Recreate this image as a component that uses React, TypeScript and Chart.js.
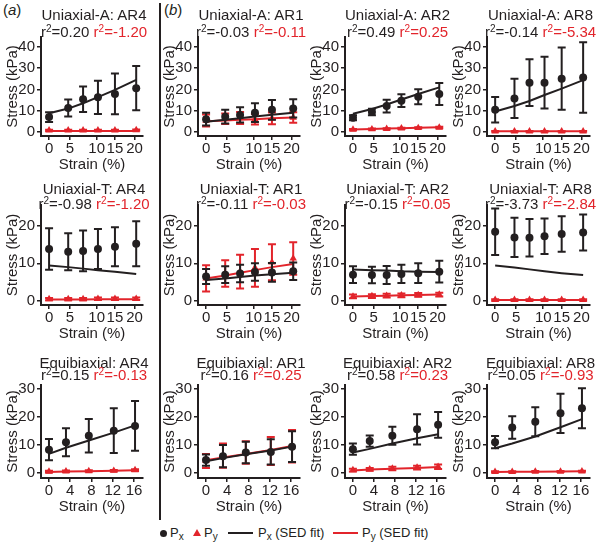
import React, { useEffect, useRef } from 'react';
import { Chart, registerables } from 'chart.js';

Chart.register(...registerables);

const FONT = "'Liberation Sans', Arial, Helvetica, sans-serif";
const BLACK = '#231f20';
const RED = '#e2242b';

// ---------------- data ----------------
const conditions = ['Uniaxial-A', 'Uniaxial-T', 'Equibiaxial'];
const aspectRatios = ['AR4', 'AR1', 'AR2', 'AR8'];

const strainUniaxial = [0, 4.5, 8, 11.5, 15.5, 20.5];
const strainEquibiaxial = [0, 3.2, 7.5, 12.2, 16.2];

const xTicksUniaxial = [0, 5, 10, 15, 20];
const xTicksEquibiaxial = [0, 4, 8, 12, 16];
const yTicksUniaxialA = [0, 10, 20, 30, 40];
const yTicksUniaxialT = [0, 5, 10, 15, 20, 25];
const yTicksEquibiaxial = [0, 10, 20, 30];

// r² per condition (rows) and aspect ratio (AR4, AR1, AR2, AR8)
const r2Px = [
  [0.20, -0.03, 0.49, -0.14],
  [-0.98, -0.11, -0.15, -3.73],
  [0.15, 0.16, 0.58, 0.05],
];
const r2Py = [
  [-1.20, -0.11, 0.25, -5.34],
  [-1.20, -0.03, 0.05, -2.84],
  [-0.13, 0.25, 0.23, -0.93],
];

// Uniaxial-A  (AR4, AR1, AR2, AR8)
const uniAPx = [
  [7.0, 11.3, 15.4, 16.3, 17.9, 20.6],
  [6.0, 7.2, 8.0, 9.1, 10.4, 11.1],
  [6.7, 9.4, 12.2, 14.7, 16.6, 17.9],
  [10.4, 15.8, 23.2, 23.2, 25.1, 25.6],
];
const uniAPxErr = [
  [2.3, 4.0, 6.0, 7.8, 9.6, 10.4],
  [3.0, 3.2, 3.6, 4.4, 4.6, 4.3],
  [1.2, 1.5, 3.0, 3.0, 3.5, 5.2],
  [6.0, 9.2, 11.0, 12.2, 14.6, 16.6],
];
const uniAPy = [
  [0.8, 0.8, 0.8, 0.8, 0.8, 0.9],
  [5.4, 6.2, 6.6, 6.0, 6.4, 6.8],
  [1.1, 1.3, 1.5, 1.7, 1.9, 2.1],
  [0.3, 0.3, 0.3, 0.3, 0.3, 0.3],
];
const uniAPyErr = [
  [0.3, 0.3, 0.3, 0.3, 0.3, 0.3],
  [2.8, 2.5, 2.8, 2.5, 2.8, 2.5],
  [0.3, 0.3, 0.3, 0.3, 0.3, 0.3],
  [0.2, 0.2, 0.2, 0.2, 0.2, 0.2],
];
const uniAPxFit = [
  [8.8, 11.0, 13.5, 16.4, 19.8, 24.5],
  [4.8, 5.7, 6.5, 7.3, 8.1, 9.1],
  [8.6, 10.8, 12.9, 15.3, 17.9, 21.0],
  [9.6, 12.2, 14.6, 17.4, 20.4, 24.4],
];
const uniAPyFit = [
  [0.4, 0.4, 0.4, 0.5, 0.5, 0.5],
  [5.0, 5.4, 5.7, 6.0, 6.4, 6.8],
  [1.2, 1.4, 1.6, 1.8, 2.0, 2.2],
  [0.3, 0.3, 0.3, 0.3, 0.3, 0.3],
];

// Uniaxial-T  (AR4, AR1, AR2, AR8)
const uniTPx = [
  [13.8, 13.1, 13.3, 13.8, 14.4, 15.2],
  [6.5, 7.0, 7.3, 7.7, 7.6, 7.9],
  [7.0, 6.9, 6.9, 7.2, 7.4, 7.8],
  [18.4, 16.9, 16.8, 17.2, 17.8, 18.2],
];
const uniTPxErr = [
  [5.5, 4.9, 5.4, 5.3, 5.2, 6.0],
  [2.0, 2.2, 2.3, 2.3, 2.5, 2.3],
  [2.2, 2.2, 2.4, 2.4, 2.6, 2.9],
  [6.2, 5.2, 5.0, 4.7, 4.7, 4.8],
];
const uniTPy = [
  [0.5, 0.5, 0.5, 0.6, 0.6, 0.6],
  [6.0, 7.3, 7.8, 8.8, 10.3, 11.3],
  [1.2, 1.3, 1.4, 1.5, 1.6, 1.7],
  [0.3, 0.3, 0.3, 0.3, 0.3, 0.3],
];
const uniTPyErr = [
  [0.3, 0.3, 0.3, 0.3, 0.3, 0.3],
  [3.5, 3.5, 4.5, 5.0, 4.8, 4.3],
  [0.5, 0.5, 0.5, 0.5, 0.5, 0.5],
  [0.2, 0.2, 0.2, 0.2, 0.2, 0.2],
];
const uniTPxFit = [
  [9.4, 9.0, 8.6, 8.2, 7.8, 7.2],
  [5.6, 6.0, 6.4, 6.8, 7.1, 7.5],
  [8.4, 8.2, 8.1, 7.9, 7.8, 7.7],
  [9.4, 8.9, 8.4, 7.9, 7.4, 6.9],
];
const uniTPyFit = [
  [0.4, 0.4, 0.4, 0.5, 0.5, 0.5],
  [6.0, 6.8, 7.5, 8.2, 9.0, 9.8],
  [1.2, 1.3, 1.4, 1.5, 1.6, 1.7],
  [0.3, 0.3, 0.3, 0.3, 0.3, 0.3],
];

// Equibiaxial  (AR4, AR1, AR2, AR8)
const equiPx = [
  [8.3, 11.0, 13.3, 15.1, 16.8],
  [4.6, 6.0, 7.3, 7.5, 9.4],
  [8.5, 11.4, 13.3, 15.6, 17.2],
  [11.0, 16.2, 18.3, 21.3, 23.1],
];
const equiPxErr = [
  [3.8, 5.0, 6.0, 8.0, 8.9],
  [2.0, 4.0, 3.8, 4.5, 5.5],
  [2.0, 2.0, 3.2, 5.4, 4.6],
  [2.2, 4.0, 5.2, 7.0, 7.1],
];
const equiPy = [
  [0.5, 0.6, 0.7, 0.8, 1.0],
  [4.3, 6.2, 7.3, 7.8, 9.5],
  [1.0, 1.3, 1.6, 1.9, 2.2],
  [0.4, 0.4, 0.5, 0.5, 0.6],
];
const equiPyErr = [
  [0.3, 0.3, 0.3, 0.3, 0.3],
  [2.5, 4.3, 4.0, 5.0, 5.8],
  [0.5, 0.5, 0.6, 0.7, 0.8],
  [0.2, 0.2, 0.2, 0.2, 0.2],
];
const equiPxFit = [
  [6.8, 9.0, 11.6, 14.4, 17.0],
  [4.2, 5.3, 6.7, 8.0, 9.4],
  [7.3, 8.6, 10.5, 12.4, 13.8],
  [8.8, 10.5, 13.0, 16.3, 19.2],
];
const equiPyFit = [
  [0.3, 0.5, 0.6, 0.8, 1.0],
  [4.5, 5.5, 6.8, 8.2, 9.6],
  [0.9, 1.2, 1.5, 1.8, 2.1],
  [0.3, 0.4, 0.4, 0.5, 0.6],
];

const pxRows = [uniAPx, uniTPx, equiPx];
const pxErrRows = [uniAPxErr, uniTPxErr, equiPxErr];
const pyRows = [uniAPy, uniTPy, equiPy];
const pyErrRows = [uniAPyErr, uniTPyErr, equiPyErr];
const pxFitRows = [uniAPxFit, uniTPxFit, equiPxFit];
const pyFitRows = [uniAPyFit, uniTPyFit, equiPyFit];
const strainRows = [strainUniaxial, strainUniaxial, strainEquibiaxial];
const xTickRows = [xTicksUniaxial, xTicksUniaxial, xTicksEquibiaxial];
const yTickRows = [yTicksUniaxialA, yTicksUniaxialT, yTicksEquibiaxial];

// ---------------- layout ----------------
const colLeft = [41, 198, 345, 487];
const colRight = [143, 300, 446, 590];
const rowTop = [37, 205, 385];
const rowBottom = [136, 305, 478];
const titleY = [15, 189, 363];
const r2Y = [32, 204, 375];
const xRangeRows = [[-1.9, 22.1], [-1.9, 22.1], [-1.5, 17.7]];
const yRangeRows = [[-1.9, 44.7], [-1.06, 25.5], [-1.8, 31.4]];
// where the tick labels sit along the strain axis (the original places them unevenly)
const xTickPosUniaxial = [0, 4.9, 11.2, 15.5, 20.1];
const xTickPosRows = [xTickPosUniaxial, xTickPosUniaxial, xTicksEquibiaxial];

const Y_AXIS_W = 41;
const X_AXIS_H = 42;
const PAD_TOP = 14;
const PAD_RIGHT = 14;

const errorBarPlugin = {
  id: 'errorBars',
  beforeDatasetDraw(chart: any, args: any) {
    const ds = chart.data.datasets[args.index];
    if (!ds.errors) return;
    const { ctx } = chart;
    const xs = chart.scales.x;
    const ys = chart.scales.y;
    ctx.save();
    ctx.strokeStyle = ds.pointBackgroundColor;
    ctx.lineWidth = 2;
    ds.data.forEach((p: any, i: number) => {
      const e = ds.errors[i];
      const x = xs.getPixelForValue(p.x);
      const yTop = ys.getPixelForValue(p.y + e);
      const yBot = ys.getPixelForValue(p.y - e);
      ctx.beginPath();
      ctx.moveTo(x, yTop);
      ctx.lineTo(x, yBot);
      ctx.moveTo(x - 4, yTop);
      ctx.lineTo(x + 4, yTop);
      ctx.moveTo(x - 4, yBot);
      ctx.lineTo(x + 4, yBot);
      ctx.stroke();
    });
    ctx.restore();
  },
};

function Panel({ row, col }: { row: number; col: number }) {
  const ref = useRef<HTMLCanvasElement>(null);
  const width = Y_AXIS_W + (colRight[col] - colLeft[col]) + PAD_RIGHT;
  const height = PAD_TOP + (rowBottom[row] - rowTop[row]) + X_AXIS_H;

  useEffect(() => {
    if (!ref.current) return;
    const xs = strainRows[row];
    const pts = (vals: number[]) => xs.map((x, i) => ({ x, y: vals[i] }));
    const font = { family: FONT, size: 15 };
    const chart = new Chart(ref.current, {
      type: 'scatter',
      data: {
        datasets: [
          {
            label: 'Px',
            data: pts(pxRows[row][col]),
            errors: pxErrRows[row][col],
            pointStyle: 'circle',
            pointRadius: 4,
            pointBackgroundColor: BLACK,
            pointBorderWidth: 0,
            borderColor: BLACK,
            showLine: false,
          } as any,
          {
            label: 'Px (SED fit)',
            data: pts(pxFitRows[row][col]),
            showLine: true,
            pointRadius: 0,
            borderColor: BLACK,
            borderWidth: 2,
          },
          {
            label: 'Py',
            data: pts(pyRows[row][col]),
            errors: pyErrRows[row][col],
            pointStyle: 'triangle',
            pointRadius: 4.3,
            pointBackgroundColor: RED,
            pointBorderWidth: 0,
            borderColor: RED,
            showLine: false,
          } as any,
          {
            label: 'Py (SED fit)',
            data: pts(pyFitRows[row][col]),
            showLine: true,
            pointRadius: 0,
            borderColor: RED,
            borderWidth: 2,
          },
        ],
      },
      options: {
        animation: false,
        responsive: false,
        devicePixelRatio: 1,
        events: [],
        layout: { padding: { left: 0, right: PAD_RIGHT, top: PAD_TOP, bottom: 0 } },
        plugins: { legend: { display: false }, tooltip: { enabled: false } },
        scales: {
          x: {
            type: 'linear',
            position: 'bottom',
            bounds: 'data',
            min: xRangeRows[row][0],
            max: xRangeRows[row][1],
            afterBuildTicks: (s: any) => {
              s.ticks = xTickPosRows[row].map((v) => ({ value: v }));
            },
            afterFit: (s: any) => {
              s.height = X_AXIS_H;
            },
            ticks: {
              autoSkip: false,
              maxRotation: 0,
              padding: 0,
              color: BLACK,
              font,
              callback: (_v: any, i: number) => String(xTickRows[row][i]),
            },
            grid: { drawOnChartArea: false, drawTicks: true, tickLength: 4, color: BLACK, lineWidth: 1.5 },
            border: { display: true, color: BLACK, width: 2 },
            title: { display: true, text: 'Strain (%)', color: BLACK, font, padding: { top: 4, bottom: 4 } },
          },
          y: {
            type: 'linear',
            position: 'left',
            bounds: 'data',
            min: yRangeRows[row][0],
            max: yRangeRows[row][1],
            afterBuildTicks: (s: any) => {
              s.ticks = yTickRows[row].map((v) => ({ value: v }));
            },
            afterFit: (s: any) => {
              s.width = Y_AXIS_W;
            },
            ticks: { padding: 2, color: BLACK, font },
            grid: { drawOnChartArea: false, drawTicks: true, tickLength: 4, color: BLACK, lineWidth: 1.5 },
            border: { display: true, color: BLACK, width: 2 },
            title: { display: true, text: 'Stress (kPa)', color: BLACK, font, padding: { top: 4, bottom: 4 } },
          },
        },
      } as any,
      plugins: [errorBarPlugin],
    });
    return () => chart.destroy();
  }, [row, col]);

  return (
    <canvas
      ref={ref}
      width={width}
      height={height}
      style={{
        position: 'absolute',
        left: colLeft[col] - Y_AXIS_W,
        top: rowTop[row] - PAD_TOP,
        width,
        height,
      }}
    />
  );
}

const supStyle: React.CSSProperties = { fontSize: 10, position: 'relative', top: -5 };
const subStyle: React.CSSProperties = { fontSize: 10, position: 'relative', top: 3 };

function PanelTitles({ row, col }: { row: number; col: number }) {
  const cx = (colLeft[col] + colRight[col]) / 2 + 2;
  const base: React.CSSProperties = {
    position: 'absolute',
    left: cx,
    transform: 'translateX(-50%)',
    whiteSpace: 'nowrap',
    fontFamily: FONT,
    fontSize: 15,
    lineHeight: '18px',
    color: BLACK,
  };
  return (
    <>
      <div style={{ ...base, top: titleY[row] - 9 }}>
        {conditions[row]}: {aspectRatios[col]}
      </div>
      <div style={{ ...base, top: r2Y[row] - 9 }}>
        r<span style={supStyle}>2</span>={r2Px[row][col].toFixed(2)}{' '}
        <span style={{ color: RED }}>
          r<span style={supStyle}>2</span>={r2Py[row][col].toFixed(2)}
        </span>
      </div>
    </>
  );
}

export default function App() {
  const rows = [0, 1, 2];
  const cols = [0, 1, 2, 3];
  const legendText: React.CSSProperties = {
    position: 'absolute',
    top: 524,
    fontFamily: FONT,
    fontSize: 13,
    lineHeight: '18px',
    color: BLACK,
    whiteSpace: 'nowrap',
  };
  const panelLabel: React.CSSProperties = {
    position: 'absolute',
    top: 1,
    fontFamily: FONT,
    fontSize: 15,
    lineHeight: '18px',
    color: BLACK,
  };
  return (
    <div style={{ position: 'absolute', left: 0, top: 0, width: 600, height: 547, background: '#fff', overflow: 'hidden' }}>
      <div style={{ position: 'absolute', left: 159, top: 3, width: 2, height: 517, background: BLACK }} />
      <div style={{ ...panelLabel, left: 3 }}>
        (<i>a</i>)
      </div>
      <div style={{ ...panelLabel, left: 164 }}>
        (<i>b</i>)
      </div>
      {rows.map((r) =>
        cols.map((c) => (
          <React.Fragment key={`${r}-${c}`}>
            <Panel row={r} col={c} />
            <PanelTitles row={r} col={c} />
          </React.Fragment>
        ))
      )}
      {/* legend */}
      <div style={{ position: 'absolute', left: 160, top: 530, width: 7, height: 7, borderRadius: '50%', background: BLACK }} />
      <div style={{ ...legendText, left: 170 }}>
        P<span style={subStyle}>x</span>
      </div>
      <div
        style={{
          position: 'absolute',
          left: 193,
          top: 529,
          width: 0,
          height: 0,
          borderLeft: '4px solid transparent',
          borderRight: '4px solid transparent',
          borderBottom: `7px solid ${RED}`,
        }}
      />
      <div style={{ ...legendText, left: 204 }}>
        P<span style={subStyle}>y</span>
      </div>
      <div style={{ position: 'absolute', left: 228, top: 532, width: 25, height: 2, background: BLACK }} />
      <div style={{ ...legendText, left: 258 }}>
        P<span style={subStyle}>x</span> (SED fit)
      </div>
      <div style={{ position: 'absolute', left: 333, top: 532, width: 25, height: 2, background: RED }} />
      <div style={{ ...legendText, left: 362 }}>
        P<span style={subStyle}>y</span> (SED fit)
      </div>
    </div>
  );
}
